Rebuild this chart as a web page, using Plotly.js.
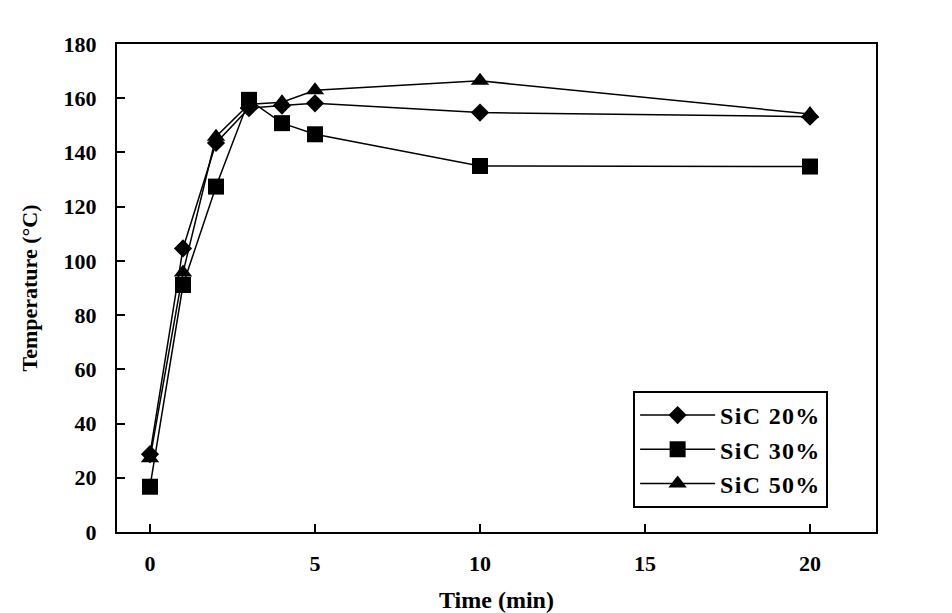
<!DOCTYPE html>
<html>
<head>
<meta charset="utf-8">
<script src="https://cdn.plot.ly/plotly-3.0.1.min.js"></script>
<style>html,body{margin:0;padding:0;background:#fff;}#chart{width:952px;height:613px;}.legendtext{letter-spacing:1.3px;}</style>
</head>
<body>
<div id="chart"></div>
<script>
var timeMin = [0, 1, 2, 3, 4, 5, 10, 20];
var sic20 = [28.7, 104.6, 143.5, 156.3, 157.3, 158.1, 154.7, 153.2];
var sic30 = [16.7, 91.1, 127.4, 159.4, 150.8, 146.7, 135.0, 134.8];
var sic50 = [27.2, 95.7, 145.8, 157.8, 158.5, 162.9, 166.4, 154.2];
var seriesNames = ['SiC 20%', 'SiC 30%', 'SiC 50%'];
var xTicks = [0, 5, 10, 15, 20];
var yTicks = [0, 20, 40, 60, 80, 100, 120, 140, 160, 180];

var fontFam = 'Liberation Serif, Times New Roman, serif';
function tr(y, name, sym, size) {
  return {
    x: timeMin, y: y, name: name, type: 'scatter', mode: 'lines+markers',
    line: {color: '#000', width: 1.5},
    marker: {symbol: sym, size: size, color: '#000'}
  };
}
var data = [
  tr(sic20, seriesNames[0], 'diamond', 14),
  tr(sic30, seriesNames[1], 'square', 16),
  tr(sic50, seriesNames[2], 'triangle-up', 16)
];
var axCommon = {
  showgrid: false, zeroline: false, showline: true, linecolor: '#000', linewidth: 2,
  mirror: true, ticks: 'inside', ticklen: 8, tickwidth: 2, tickcolor: '#000',
  tickfont: {family: fontFam, size: 22, color: '#000', weight: 'bold'}
};
var layout = {
  width: 952, height: 613,
  margin: {l: 117, r: 76, t: 44, b: 81},
  paper_bgcolor: '#fff', plot_bgcolor: '#fff',
  showlegend: true,
  xaxis: Object.assign({}, axCommon, {
    range: [-1, 22], tickmode: 'array', tickvals: xTicks, ticktext: xTicks.map(String),
    ticklabelstandoff: 11,
    title: {text: 'Time (min)', standoff: 22, font: {family: fontFam, size: 24, color: '#000', weight: 'bold'}}
  }),
  yaxis: Object.assign({}, axCommon, {
    range: [0, 180], tickmode: 'array', tickvals: yTicks, ticktext: yTicks.map(String),
    ticklabelstandoff: 14,
    title: {text: 'Temperature (°C)', standoff: 20, font: {family: fontFam, size: 22, color: '#000', weight: 'bold'}}
  }),
  legend: {
    x: 0.68, y: 0.289, xanchor: 'left', yanchor: 'top',
    bordercolor: '#000', borderwidth: 2, bgcolor: '#fff',
    itemwidth: 75, tracegroupgap: 0,
    font: {family: fontFam, size: 24, color: '#000', weight: 'bold'}
  }
};
Plotly.newPlot('chart', data, layout, {displayModeBar: false, staticPlot: true});
</script>
</body>
</html>
